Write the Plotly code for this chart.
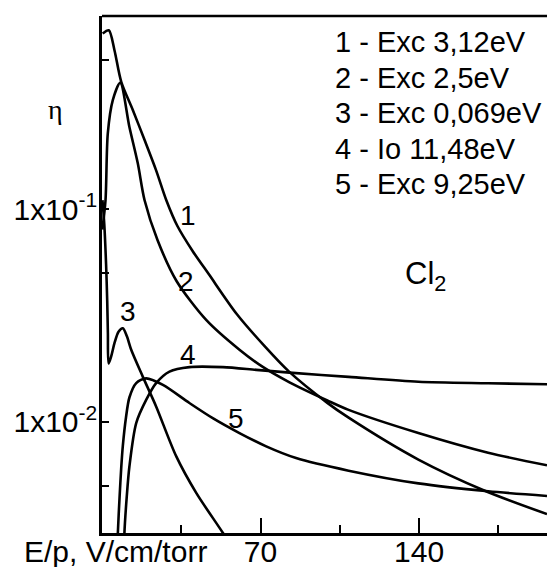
import math
import plotly.graph_objects as go

# ---- data ----
x1 = [0.3, 3.0, 5.5, 8.5, 13.6, 18.8, 23.9, 28.4, 33.3, 40.0, 47.2, 59.5, 71.9, 82.6, 99.5, 108.9, 139.7, 169.0, 196.5]
y1 = [0.668, 0.692, 0.558, 0.396, 0.292, 0.211, 0.152, 0.110, 0.0832, 0.0635, 0.0493, 0.0321, 0.0226, 0.0172, 0.01227, 0.01045, 0.00664, 0.00474, 0.00368]

x2 = [0.15, 1.55, 2.56, 4.77, 8.04, 12.1, 15.8, 18.8, 24.5, 32.9, 46.0, 60.7, 71.0, 82.8, 99.5, 108.9, 139.7, 170.5, 196.5]
y2 = [0.08, 0.110, 0.227, 0.325, 0.392, 0.243, 0.164, 0.110, 0.0715, 0.0459, 0.0301, 0.0218, 0.0181, 0.01532, 0.01259, 0.01137, 0.00885, 0.00715, 0.00624]

x3 = [0.2, 1.0, 1.8, 2.3, 2.6, 2.9, 4.06, 5.5, 7.3, 9.2, 11.0, 12.9, 18.0, 23.9, 32.8, 41.6, 53.4, 57.0]
y3 = [0.11, 0.085, 0.055, 0.037, 0.026, 0.0188, 0.0203, 0.0234, 0.0265, 0.0275, 0.0252, 0.0218, 0.0163, 0.0118, 0.00687, 0.00463, 0.0030, 0.0026]

x4 = [9.7, 9.9, 10.9, 12.1, 15.1, 19.5, 23.9, 29.8, 38.6, 53.4, 68.1, 82.8, 108.9, 139.7, 170.5, 196.5]
y4 = [0.0024, 0.0030, 0.0044, 0.00616, 0.00986, 0.01267, 0.0152, 0.01722, 0.01807, 0.01807, 0.01754, 0.01702, 0.01626, 0.01542, 0.01517, 0.0150]

x5 = [6.8, 7.0, 7.8, 8.5, 9.2, 10.6, 12.1, 15.1, 19.5, 26.9, 38.6, 48.9, 60.7, 72.5, 85.7, 108.9, 139.7, 170.5, 196.5]
y5 = [0.0024, 0.0030, 0.0045, 0.0061, 0.0077, 0.0105, 0.0130, 0.0152, 0.0160, 0.0149, 0.01225, 0.0104, 0.00885, 0.00766, 0.00675, 0.00589, 0.00513, 0.00471, 0.00448]

curve_ids = ["1", "2", "3", "4", "5"]
legend_lines = ["1 - Exc 3,12eV", "2 - Exc 2,5eV", "3 - Exc 0,069eV", "4 - Io 11,48eV", "5 - Exc 9,25eV"]
label_x = [38.0, 37.3, 11.4, 37.9, 59.3]
label_y = [0.0935, 0.0454, 0.033, 0.0206, 0.0104]

x_ticks = [70, 140]
x_minor = [35, 105, 175]
y_ticks = [0.005, 0.01, 0.05, 0.1, 0.5]
y_ticktext = ["", "1x10<sup>-2</sup>", "", "1x10<sup>-1</sup>", ""]

FONT = "Liberation Sans, Arial, sans-serif"

fig = go.Figure()
for xs, ys in [(x1, y1), (x2, y2), (x3, y3), (x4, y4), (x5, y5)]:
    fig.add_trace(go.Scatter(x=xs, y=ys, mode="lines",
                             line=dict(color="black", width=2.6, shape="spline", smoothing=0.8),
                             showlegend=False, hoverinfo="skip"))

annotations = []
for cid, lx, ly in zip(curve_ids, label_x, label_y):
    annotations.append(dict(x=lx, y=math.log10(ly), xref="x", yref="y", text=cid, showarrow=False,
                            font=dict(family=FONT, size=28, color="black"),
                            xanchor="center", yanchor="middle"))
# legend block
leg_y0 = 42
for i, t in enumerate(legend_lines):
    py = leg_y0 + i * 35.5
    annotations.append(dict(x=(333 - 102) / 445, y=(533 - py) / 517, xref="paper", yref="paper",
                            text=t, showarrow=False, xanchor="left", yanchor="middle",
                            font=dict(family=FONT, size=29, color="black")))
# Cl2
annotations.append(dict(x=(403 - 102) / 445, y=(533 - 276) / 517, xref="paper", yref="paper",
                        text="Cl<sub>2</sub>", showarrow=False, xanchor="left", yanchor="middle",
                        font=dict(family=FONT, size=31, color="black")))
# eta
annotations.append(dict(x=(55 - 102) / 445, y=(533 - 110) / 517, xref="paper", yref="paper",
                        text="η", showarrow=False, xanchor="center", yanchor="middle",
                        font=dict(family="Liberation Serif, Times New Roman, serif", size=28, color="black")))
# x axis title on tick-label row
annotations.append(dict(x=(22 - 102) / 445, y=(533 - 551) / 517, xref="paper", yref="paper",
                        text="E/p, V/cm/torr", showarrow=False, xanchor="left", yanchor="middle",
                        font=dict(family=FONT, size=30, color="black")))

fig.update_layout(
    width=547, height=567,
    margin=dict(l=102, r=0, t=16, b=34, autoexpand=False),
    paper_bgcolor="white", plot_bgcolor="white",
    annotations=annotations,
    shapes=[dict(type="line", xref="paper", yref="paper", x0=0, x1=1, y0=1, y1=1,
                 line=dict(color="black", width=2.5))],
    xaxis=dict(range=[0, 196.5], tickvals=x_ticks, ticks="inside", ticklen=15, tickwidth=1.5,
               tickcolor="black", showline=True, linecolor="black", linewidth=2.5,
               showgrid=False, zeroline=False, automargin=False, ticklabelstandoff=-10,
               tickfont=dict(family=FONT, size=30, color="black"),
               minor=dict(tickvals=x_minor, ticks="inside", ticklen=8, tickwidth=1.5, tickcolor="black",
                          showgrid=False)),
    yaxis=dict(type="log", range=[-2.523, -0.0926], tickvals=y_ticks, ticktext=y_ticktext,
               ticks="inside", ticklen=7, tickwidth=1.5, tickcolor="black",
               showline=True, linecolor="black", linewidth=2.5, showgrid=False, zeroline=False,
               automargin=False, ticklabelstandoff=-4,
               tickfont=dict(family=FONT, size=30, color="black")),
)

fig.write_html("out.html", config={"displayModeBar": False},
               post_script="document.body.style.margin='0px';document.body.style.overflow='hidden';")
